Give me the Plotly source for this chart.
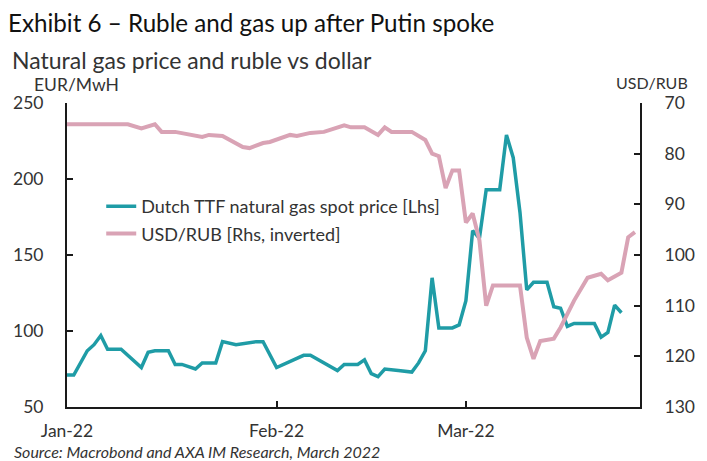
import plotly.graph_objects as go

# ---- data ----
gas_dates = ["2022-01-01","2022-01-02","2022-01-04","2022-01-05","2022-01-06","2022-01-07","2022-01-09",
             "2022-01-12","2022-01-13","2022-01-14","2022-01-16","2022-01-17","2022-01-18","2022-01-20",
             "2022-01-21","2022-01-23","2022-01-24","2022-01-26","2022-01-29","2022-01-30",
             "2022-02-01","2022-02-05","2022-02-06","2022-02-10","2022-02-11","2022-02-13","2022-02-14",
             "2022-02-15","2022-02-16","2022-02-17","2022-02-19","2022-02-21","2022-02-22","2022-02-23",
             "2022-02-24","2022-02-25","2022-02-27","2022-02-28",
             "2022-03-01","2022-03-02","2022-03-03","2022-03-04","2022-03-06","2022-03-07","2022-03-08",
             "2022-03-09","2022-03-10","2022-03-11","2022-03-13","2022-03-14","2022-03-15","2022-03-16",
             "2022-03-17","2022-03-20","2022-03-21","2022-03-22","2022-03-23","2022-03-24"]
gas_values = [71,71,87,91,97,88,88,76,86,87,87,78,78,75,79,79,93,91,93,93,
              76,84,84,74,78,78,81,72,70,75,74,73,79,87,135,102,102,104,
              120,166,161,193,193,229,214,178,127,132,132,116,115,103,105,105,96,99,117,112]

rub_dates = ["2022-01-01","2022-01-10","2022-01-12","2022-01-14","2022-01-15","2022-01-17","2022-01-21",
             "2022-01-22","2022-01-24","2022-01-27","2022-01-28","2022-01-30","2022-01-31",
             "2022-02-03","2022-02-04","2022-02-06","2022-02-08","2022-02-09","2022-02-11","2022-02-12",
             "2022-02-14","2022-02-16","2022-02-17","2022-02-18","2022-02-21","2022-02-23","2022-02-24",
             "2022-02-25","2022-02-26","2022-02-27","2022-02-28",
             "2022-03-01","2022-03-02","2022-03-03","2022-03-04","2022-03-05","2022-03-09","2022-03-10",
             "2022-03-11","2022-03-12","2022-03-14","2022-03-15","2022-03-17","2022-03-19","2022-03-21",
             "2022-03-22","2022-03-24","2022-03-25","2022-03-26"]
rub_values = [74.2,74.2,75.0,74.2,75.7,75.7,76.7,76.3,76.5,78.7,78.9,77.9,77.7,
              76.3,76.5,75.9,75.7,75.3,74.4,74.8,74.8,76.3,74.8,75.7,75.7,77.3,80.0,80.5,86.8,83.3,83.3,
              93.6,91.8,97.1,110,106,106,116.3,120.5,117,116.5,114.3,109,104.5,103.7,105,103.5,96.5,95.5]

gas_name = "Dutch TTF natural gas spot price [Lhs]"
rub_name = "USD/RUB [Rhs, inverted]"
left_ticks = [50, 100, 150, 200, 250]
right_ticks = [70, 80, 90, 100, 110, 120, 130]

FONT = "Lato, Carlito, sans-serif"
TEAL = "#1f9ca6"
PINK = "#d9a3b5"

fig = go.Figure()
fig.add_trace(go.Scatter(x=gas_dates, y=gas_values, name=gas_name, mode="lines",
                         line=dict(color=TEAL, width=3.5), yaxis="y", legendgroup="a"))
fig.add_trace(go.Scatter(x=rub_dates, y=rub_values, name=rub_name, mode="lines",
                         line=dict(color=PINK, width=4), yaxis="y2", legendgroup="b"))

W, H = 707, 461
L, R, T, B = 67, 54, 103, 54
pw, ph = W - L - R, H - T - B

def px(x):
    return (x - L) / pw

def py(y):
    return (H - B - y) / ph

def axis_style(size):
    return dict(showline=True, linecolor="#1a1a1a", linewidth=2, ticks="inside", ticklen=6,
                tickwidth=2, tickcolor="#1a1a1a", showgrid=False, zeroline=False,
                tickfont=dict(family=FONT, size=size, color="#333333"))

def note(text, x, y, size, anchor="left", color="#333333"):
    return dict(text=text, x=px(x), y=py(y), xref="paper", yref="paper", xanchor=anchor,
                yanchor="middle", align=anchor, showarrow=False, borderpad=0,
                font=dict(family=FONT, size=size, color=color))

fig.update_layout(
    width=W, height=H,
    margin=dict(l=L, r=R, t=T, b=B),
    paper_bgcolor="white", plot_bgcolor="white",
    font=dict(family=FONT, color="#333333"),
    xaxis=dict(range=["2022-01-01", "2022-03-26 18:00"], tickformat="%b-%y", dtick="M1",
               tick0="2022-01-01", ticklabelstandoff=7, **axis_style(17.5)),
    yaxis=dict(range=[50, 250], tickvals=left_ticks, ticklabelstandoff=18, **axis_style(17.5)),
    yaxis2=dict(range=[130, 70], tickvals=right_ticks, overlaying="y", side="right",
                ticklabelstandoff=19, **axis_style(17.5)),
    showlegend=True,
    legend=dict(x=px(102), y=py(188), xanchor="left", yanchor="top", bgcolor="rgba(0,0,0,0)",
                font=dict(family=FONT, size=18, color="#333333"), traceorder="grouped",
                tracegroupgap=1),
    annotations=[
        note("Exhibit 6 – Ruble and gas up after Putin spoke", 6, 22, 24.2, color="#111111"),
        note("Natural gas price and ruble vs dollar", 10, 60, 23),
        note("EUR/MwH", 32, 84, 17.5),
        note("USD/RUB", 703, 83, 16, anchor="right"),
        note("<i>Source: Macrobond and AXA IM Research, March 2022</i>", 12, 451.5, 16),
    ],
)

fig.write_html("out.html", post_script="document.body.style.margin='0px';",
               config={"displayModeBar": False})
